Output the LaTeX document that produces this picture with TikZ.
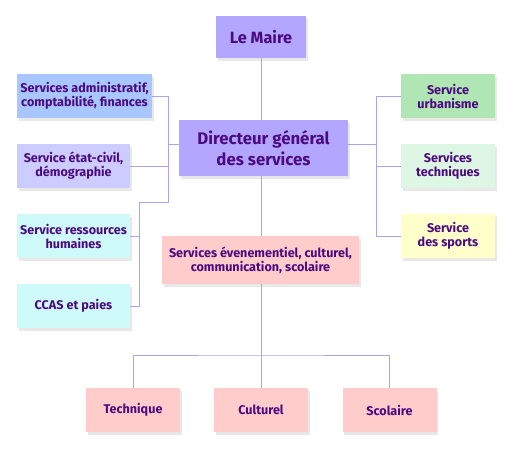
\documentclass[tikz,border=0pt]{standalone}
\usepackage{fontspec}
\setmainfont{Fira Sans}
\usepackage{tikz}
\usetikzlibrary{shadows}

\definecolor{linkcol}{RGB}{176,160,240}
\definecolor{textcol}{RGB}{75,10,128}
\definecolor{mairecol}{RGB}{179,166,255}
\definecolor{admincol}{RGB}{168,198,255}
\definecolor{etatcol}{RGB}{204,204,255}
\definecolor{rhcol}{RGB}{206,250,250}
\definecolor{urbacol}{RGB}{176,230,180}
\definecolor{techcol}{RGB}{222,246,228}
\definecolor{sportcol}{RGB}{255,255,204}
\definecolor{pinkcol}{RGB}{255,204,204}

\tikzset{
  box/.style={rectangle, align=center, text=textcol, inner sep=1pt,
    font=\bfseries\fontsize{12.6}{14}\selectfont,
    drop shadow={opacity=0.18, shadow xshift=1.5pt, shadow yshift=-3pt}},
  link/.style={draw=linkcol, line width=0.8pt}
}

\begin{document}
\begin{tikzpicture}[x=1pt,y=-1pt]

\useasboundingbox (0,0) rectangle (525,450);

% top
\node[box, fill=mairecol, minimum width=90, minimum height=42,
  font=\bfseries\fontsize{16.3}{19}\selectfont] (maire) at (261,37) {Le Maire};
\node[box, fill=mairecol, minimum width=169, minimum height=56,
  font=\bfseries\fontsize{16.8}{21}\selectfont] (dg) at (263.5,148) {Directeur général\\des services};

% left services
\node[box, fill=admincol, minimum width=135, minimum height=44] (admin) at (84.5,96) {Services administratif,\\comptabilité, finances};
\node[box, fill=etatcol, minimum width=113, minimum height=44] (etat) at (73.5,166) {Service état-civil,\\démographie};
\node[box, fill=rhcol, minimum width=113, minimum height=44] (rh) at (73.5,236) {Service ressources\\humaines};
\node[box, fill=rhcol, minimum width=113, minimum height=44] (ccas) at (73.5,306) {CCAS et paies};

% right services
\node[box, fill=urbacol, minimum width=94, minimum height=44] (urba) at (448,96) {Service\\urbanisme};
\node[box, fill=techcol, minimum width=94, minimum height=44] (techs) at (448,166) {Services\\techniques};
\node[box, fill=sportcol, minimum width=94, minimum height=44] (sport) at (448,236) {Service\\des sports};

% events
\node[box, fill=pinkcol, minimum width=197, minimum height=48] (even) at (260.5,260) {Services évenementiel, culturel,\\communication, scolaire};
\node[box, fill=pinkcol, minimum width=94, minimum height=44] (techn) at (133,410) {Technique};
\node[box, fill=pinkcol, minimum width=94, minimum height=44] (cult) at (261,410) {Culturel};
\node[box, fill=pinkcol, minimum width=94, minimum height=44] (scol) at (389.5,410) {Scolaire};

% bus points
\coordinate (lbus) at (168,202);
\coordinate (lbus2) at (139,306);
\coordinate (rbus) at (376,236);
\coordinate (bbus) at (261,355);

% links
\draw[link] (maire.south) -- (maire.south |- dg.north);
\draw[link] (admin.east) -| (lbus) -| (lbus2) -- (ccas.east);
\draw[link] (etat.east) -- (etat.east -| lbus);
\draw[link] ([yshift=4pt]dg.west) -- ([yshift=4pt]dg.west -| lbus);
\draw[link] (rh.east) -- (rh.east -| lbus2);
\draw[link] (urba.west) -| (rbus) -- (sport.west);
\draw[link] (techs.west) -- (techs.west -| rbus);
\draw[link] ([yshift=4pt]dg.east) -- ([yshift=4pt]dg.east -| rbus);
\draw[link] (bbus |- dg.south) -- (bbus |- even.north);
\draw[link] (bbus |- even.south) -- (bbus);
\draw[link] (techn.north) |- (bbus) -| (scol.north);
\draw[link] (bbus) -- (cult.north);

\end{tikzpicture}
\end{document}
